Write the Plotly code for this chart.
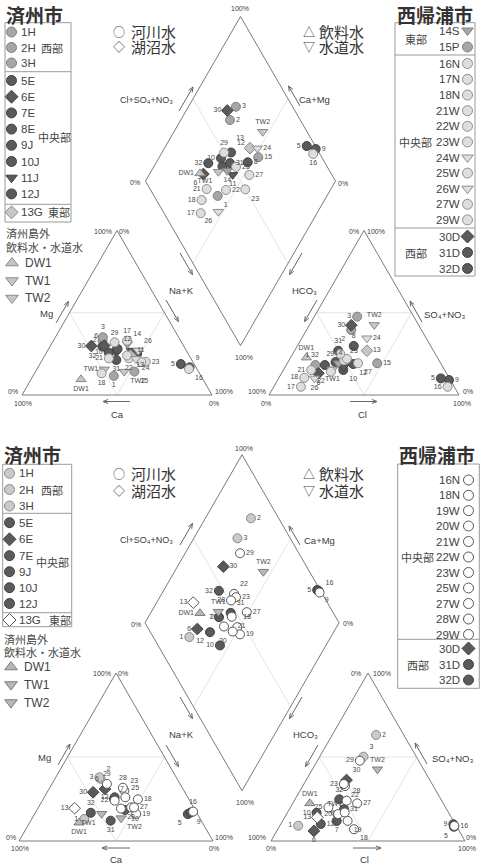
import numpy as np
import plotly.graph_objects as go

W, H = 482, 866
FONT = "Liberation Sans, Arial, DejaVu Sans, Noto Sans CJK JP, sans-serif"
CJK = "Noto Sans CJK JP, Liberation Sans, sans-serif"
LINE = "#7a7a7a"
TXT = "#3c3c3c"

# ---------------- Top chart (samples, meq %) ----------------
A_id = ["1", "2", "3", "5", "6", "7", "8", "9", "10", "11", "12", "13", "DW1", "TW1", "TW2",
        "14", "15", "16", "17", "18", "21", "22", "23", "24", "25", "26", "27", "29", "30", "31", "32"]
A_ca = [45.9, 41.1, 39.9, 7.0, 41.7, 37.0, 26.9, 3.4, 41.5, 29.0, 35.7, 31.0, 64.2, 48.9, 39.1,
        29.1, 33.7, 4.2, 28.2, 51.5, 43.1, 32.6, 24.8, 29.1, 32.7, 25.4, 27.2, 35.3, 48.6, 39.7, 43.0]
A_mg = [11.6, 33.0, 35.1, 18.8, 30.0, 27.0, 25.0, 16.8, 25.7, 27.0, 28.0, 24.0, 9.5, 15.6, 14.2,
        31.0, 14.2, 15.8, 33.0, 13.2, 22.3, 22.3, 20.2, 22.0, 24.0, 27.0, 20.0, 32.0, 29.8, 21.3, 29.4]
A_nak = [42.5, 25.9, 25.0, 74.2, 28.3, 36.0, 48.1, 79.8, 32.8, 44.0, 36.3, 45.0, 26.3, 35.5, 46.7,
         39.9, 52.1, 80.0, 38.8, 35.3, 34.6, 45.1, 55.0, 48.9, 43.3, 47.6, 52.8, 32.7, 21.6, 39.0, 27.6]
A_cl = [15.3, 23.5, 22.6, 85.4, 19.4, 25.0, 29.7, 90.2, 31.5, 30.8, 34.9, 38.1, 8.3, 25.6, 34.1,
        26.9, 47.3, 91.5, 14.3, 13.3, 14.6, 25.5, 29.0, 34.3, 30.0, 18.9, 37.2, 25.0, 22.1, 23.0, 20.3]
A_so4 = [18.2, 39.5, 47.6, 10.1, 13.2, 20.0, 29.8, 9.1, 15.2, 17.0, 18.8, 26.9, 22.7, 15.6, 42.6,
         19.3, 19.3, 5.0, 5.0, 10.5, 15.2, 14.2, 21.0, 34.5, 22.0, 10.1, 19.3, 25.0, 42.4, 26.9, 18.2]
A_hco3 = [66.5, 37.0, 29.8, 4.5, 67.4, 55.0, 40.5, 0.7, 53.3, 52.2, 46.3, 35.0, 69.0, 58.8, 23.3,
          53.8, 33.4, 3.5, 80.7, 76.2, 70.2, 60.3, 50.0, 31.2, 48.0, 71.0, 43.5, 50.0, 35.5, 50.1, 61.5]
A_style = ["mid_c", "mid_c", "mid_c", "dark_c", "dark_d", "dark_c", "dark_c", "dark_c", "dark_c", "dark_tdn",
           "dark_c", "lgray_d", "lgray_tup", "lgray_tdn", "lgray_tdn", "mid_tdn", "mid_c", "light_c", "light_c",
           "light_c", "light_c", "light_c", "light_c", "light_tdn", "light_c", "light_tdn", "light_c", "light_c",
           "dark_d", "dark_c", "dark_c"]

A_lab_cat = {"1": "bottom center", "2": "middle left", "3": "top center", "5": "middle left", "6": "top left",
             "7": "", "8": "", "9": "top right", "10": "middle left", "11": "middle right", "12": "top right",
             "13": "bottom right", "DW1": "bottom center", "TW1": "middle left", "TW2": "bottom right",
             "14": "top right", "15": "bottom right", "16": "bottom right", "17": "top center",
             "18": "bottom center", "21": "middle left", "22": "bottom center", "23": "middle right",
             "24": "bottom right", "25": "", "26": "top right", "27": "", "29": "top center",
             "30": "middle left", "31": "bottom center", "32": "bottom left"}
A_lab_an = {"1": "top left", "2": "bottom left", "3": "middle left", "5": "middle left", "6": "bottom center",
            "7": "", "8": "top center", "9": "middle right", "10": "bottom right", "11": "", "12": "bottom right",
            "13": "middle right", "DW1": "top center", "TW1": "bottom center", "TW2": "top center",
            "14": "top center", "15": "middle right", "16": "middle left", "17": "middle left",
            "18": "middle left", "21": "middle left", "22": "bottom left", "23": "top right",
            "24": "middle right", "25": "", "26": "bottom center", "27": "bottom right", "29": "middle left",
            "30": "middle left", "31": "top center", "32": "top left"}
A_lab_dia = {"1": "bottom right", "2": "middle right", "3": "middle right", "5": "middle left",
             "6": "bottom left", "7": "", "8": "middle right", "9": "middle right", "10": "middle left",
             "11": "bottom center", "12": "top right", "13": "top left", "DW1": "middle left",
             "TW1": "bottom left", "TW2": "top center", "14": "bottom center", "15": "middle right",
             "16": "bottom center", "17": "middle left", "18": "middle left", "21": "middle left",
             "22": "middle right", "23": "bottom right", "24": "middle right", "25": "middle right",
             "26": "bottom left", "27": "middle right", "29": "top center", "30": "middle left",
             "31": "middle right", "32": "middle left"}

# ---------------- Bottom chart (samples, meq %) ----------------
B_id = ["1", "2", "3", "5", "6", "7", "9", "10", "12", "13", "DW1", "TW1", "TW2",
        "16", "18", "19", "20", "21", "22", "23", "25", "27", "28", "29", "30", "31", "32"]
B_ca = [59.8, 39.5, 39.6, 5.0, 40.2, 38.5, 3.0, 36.1, 37.7, 61.6, 63.6, 49.3, 40.6,
        1.5, 26.3, 31.5, 32.2, 37.8, 38.7, 30.7, 32.2, 30.7, 30.6, 37.7, 47.3, 46.7, 54.6]
B_mg = [13.1, 37.0, 37.9, 16.0, 31.0, 25.0, 17.0, 18.5, 26.0, 19.5, 10.9, 16.2, 13.6,
        17.5, 24.8, 16.1, 20.0, 19.3, 24.0, 30.0, 26.0, 20.0, 31.7, 34.0, 29.0, 12.1, 16.8]
B_nak = [27.1, 23.5, 22.5, 79.0, 28.8, 36.5, 80.0, 45.4, 36.3, 18.9, 25.5, 34.5, 45.8,
         81.0, 48.9, 52.4, 47.8, 42.9, 37.3, 39.3, 41.8, 49.3, 37.7, 28.3, 23.7, 41.2, 28.6]
B_cl = [9.5, 22.6, 22.6, 90.0, 19.1, 27.9, 89.0, 15.1, 20.6, 16.8, 8.8, 24.6, 33.5,
        90.0, 39.3, 33.5, 26.6, 29.5, 21.8, 20.6, 19.6, 33.2, 27.0, 21.9, 20.8, 28.2, 22.8]
B_so4 = [9.1, 63.1, 50.2, 8.5, 6.0, 11.9, 10.0, 16.8, 10.1, 14.1, 22.4, 16.5, 42.7,
         9.0, 7.0, 12.0, 16.0, 17.0, 32.7, 33.9, 20.0, 22.4, 24.0, 47.8, 36.3, 18.9, 24.8]
B_hco3 = [81.4, 14.3, 27.2, 1.5, 74.9, 60.2, 1.0, 68.1, 69.3, 69.1, 68.8, 58.9, 23.8,
          1.0, 53.7, 54.5, 57.4, 53.5, 45.5, 45.5, 60.4, 44.4, 49.0, 30.3, 42.9, 52.9, 52.4]
B_style = ["lg_c", "lg_c", "lg_c", "dark_c", "dark_d", "dark_c", "dark_c", "dark_c", "dark_c", "white_d",
           "gray_tup", "gray_tdn", "gray_tdn", "white_c", "white_c", "white_c", "white_c", "white_c",
           "white_c", "white_c", "white_c", "white_c", "white_c", "white_c", "dark_d", "dark_c", "dark_c"]

B_lab_cat = {"1": "middle left", "2": "top right", "3": "middle left", "5": "bottom left", "6": "top left",
             "7": "top right", "9": "bottom right", "10": "bottom right", "12": "middle left",
             "13": "middle left", "DW1": "bottom center", "TW1": "bottom left", "TW2": "bottom right",
             "16": "top center", "18": "middle right", "19": "middle right", "20": "bottom center", "21": "",
             "22": "middle left", "23": "top right", "25": "top right", "27": "middle right",
             "28": "top center", "29": "top center", "30": "middle left", "31": "bottom center",
             "32": "top center"}
B_lab_an = {"1": "middle left", "2": "middle right", "3": "top right", "5": "bottom left",
            "6": "bottom center", "7": "bottom center", "9": "middle left", "10": "middle left",
            "12": "middle right", "13": "middle left", "DW1": "top center", "TW1": "top center",
            "TW2": "top center", "16": "middle right", "18": "bottom right", "19": "bottom right",
            "20": "middle left", "21": "", "22": "bottom right", "23": "middle left", "25": "middle left",
            "27": "middle right", "28": "top right", "29": "middle left", "30": "top right",
            "31": "middle right", "32": "top center"}
B_lab_dia = {"1": "middle left", "2": "middle right", "3": "middle right", "5": "middle left",
             "6": "middle left", "7": "middle left", "9": "bottom right", "10": "middle left",
             "12": "bottom left", "13": "middle left", "DW1": "middle left", "TW1": "top center",
             "TW2": "top center", "16": "top right", "18": "top right", "19": "middle right",
             "20": "bottom left", "21": "bottom right", "22": "top right", "23": "middle right",
             "25": "top left", "27": "middle right", "28": "middle left", "29": "middle right",
             "30": "middle right", "31": "top right", "32": "middle left"}

STYLES = {
    "dark_c": ("circle", "#5a5a5a", "#424242"),
    "dark_d": ("diamond", "#5a5a5a", "#424242"),
    "dark_tdn": ("triangle-down", "#5a5a5a", "#424242"),
    "mid_c": ("circle", "#a6a6a6", "#808080"),
    "mid_tdn": ("triangle-down", "#a6a6a6", "#808080"),
    "light_c": ("circle", "#dedede", "#8e8e8e"),
    "light_tdn": ("triangle-down", "#dedede", "#8e8e8e"),
    "lgray_d": ("diamond", "#c6c6c6", "#8a8a8a"),
    "lgray_tup": ("triangle-up", "#c6c6c6", "#8a8a8a"),
    "lgray_tdn": ("triangle-down", "#c6c6c6", "#8a8a8a"),
    "lg_c": ("circle", "#cacaca", "#8a8a8a"),
    "white_c": ("circle", "#ffffff", "#555555"),
    "white_d": ("diamond", "#ffffff", "#555555"),
    "gray_tup": ("triangle-up", "#b8b8b8", "#7c7c7c"),
    "gray_tdn": ("triangle-down", "#b8b8b8", "#7c7c7c"),
}

SQ3 = np.sqrt(3) / 2


def make_geo(x0, base, s, gap):
    h = s * SQ3
    return dict(x0=x0, base=base, s=s, h=h, xr=x0 + s + gap,
                bx=x0 + s + gap / 2, by=base - gap * SQ3)


GEO_A = make_geo(22, 395, 190, 57)
GEO_B = make_geo(19, 841, 194, 58)

fig = go.Figure()
annots = []


def txt(x, y, s, size=7, anchor="center", color=TXT, family=FONT):
    annots.append(dict(x=x, y=y, xref="x", yref="y", text=s, showarrow=False,
                       xanchor=anchor, yanchor="middle",
                       font=dict(size=size, color=color, family=family)))


def lines(segs, color=LINE, width=1):
    xs, ys = [], []
    for seg in segs:
        for p in seg:
            xs.append(p[0]); ys.append(p[1])
        xs.append(None); ys.append(None)
    fig.add_trace(go.Scatter(x=xs, y=ys, mode="lines", line=dict(color=color, width=width),
                             hoverinfo="skip"))


def arrow_segs(x0, y0, x1, y1, hl=5.5, ang=22):
    d = np.array([x1 - x0, y1 - y0], float)
    d /= np.linalg.norm(d)
    segs = [[(x0, y0), (x1, y1)]]
    for sgn in (1, -1):
        a = np.radians(180 + sgn * ang)
        r = np.array([d[0] * np.cos(a) - d[1] * np.sin(a), d[0] * np.sin(a) + d[1] * np.cos(a)])
        segs.append([(x1, y1), (x1 + hl * r[0], y1 + hl * r[1])])
    return segs


def frame(g):
    x0, b, s, h, xr, bx, by = g["x0"], g["base"], g["s"], g["h"], g["xr"], g["bx"], g["by"]
    inner = []
    for ox in (x0, xr):
        m1 = (ox + s / 2, b); m2 = (ox + 3 * s / 4, b - h / 2); m3 = (ox + s / 4, b - h / 2)
        inner.append([m1, m2, m3, m1])
    inner.append([(bx - s / 4, by - h / 2), (bx + s / 4, by - 3 * h / 2)])
    inner.append([(bx - s / 4, by - 3 * h / 2), (bx + s / 4, by - h / 2)])
    lines(inner, color="#e4e4e4", width=1)
    outl = []
    for ox in (x0, xr):
        outl.append([(ox, b), (ox + s, b), (ox + s / 2, b - h), (ox, b)])
    outl.append([(bx, by), (bx + s / 2, by - h), (bx, by - 2 * h), (bx - s / 2, by - h), (bx, by)])
    lines(outl, color=LINE, width=1)


def positions(g, mg, nak, cl, so4):
    mg = np.array(mg) / 100; nak = np.array(nak) / 100
    cl = np.array(cl) / 100; so4 = np.array(so4) / 100
    xc = g["x0"] + g["s"] * (nak + mg / 2); yc = g["base"] - g["h"] * mg
    xa = g["xr"] + g["s"] * (cl + so4 / 2); ya = g["base"] - g["h"] * so4
    a = cl + so4; c = 1 - nak
    xd = g["bx"] + g["s"] / 2 * (a - c); yd = g["by"] - g["h"] * (a + c)
    return (xc, yc), (xa, ya), (xd, yd)


def plot_points(g, ids, mg, nak, cl, so4, styles, labs):
    pans = positions(g, mg, nak, cl, so4)
    for st in dict.fromkeys(styles):
        sym, fc, lc = STYLES[st]
        xs, ys = [], []
        for (px, py) in pans:
            for i in range(len(ids)):
                if styles[i] == st:
                    xs.append(px[i]); ys.append(py[i])
        fig.add_trace(go.Scatter(x=xs, y=ys, mode="markers",
                                 marker=dict(symbol=sym, size=9, color=fc, line=dict(color=lc, width=1)),
                                 hoverinfo="skip"))
    tx, ty, tt, tp = [], [], [], []
    for (px, py), lab in zip(pans, labs):
        for i, sid in enumerate(ids):
            pos = lab.get(sid, "middle right")
            if not pos:
                continue
            tx.append(px[i]); ty.append(py[i]); tt.append(sid); tp.append(pos)
    # invisible markers of the same size keep the labels offset from the symbols
    fig.add_trace(go.Scatter(x=tx, y=ty, mode="markers+text", text=tt, textposition=tp,
                             marker=dict(size=8, opacity=0),
                             textfont=dict(size=7, color="#4a4a4a", family=FONT), hoverinfo="skip"))


def legend_marker(x, y, st, size=10):
    sym, fc, lc = STYLES[st]
    fig.add_trace(go.Scatter(x=[x], y=[y], mode="markers",
                             marker=dict(symbol=sym, size=size, color=fc, line=dict(color=lc, width=1)),
                             hoverinfo="skip"))


shapes = []


def rect(x0, y0, x1, y1):
    shapes.append(dict(type="rect", xref="x", yref="y", x0=x0, y0=y0, x1=x1, y1=y1,
                       line=dict(color="#9a9a9a", width=1)))


def hline(x0, x1, y):
    shapes.append(dict(type="line", xref="x", yref="y", x0=x0, x1=x1, y0=y, y1=y,
                       line=dict(color="#9a9a9a", width=1)))


def chart_text(lab):
    (c1, c2, nk, hc, so, mgp, cap, clp) = lab
    txt(c1[0], c1[1], "Cl+SO₄+NO₃", 9)
    txt(c2[0], c2[1], "Ca+Mg", 9.5)
    txt(nk[0], nk[1], "Na+K", 9.5)
    txt(hc[0], hc[1], "HCO₃", 9.5)
    txt(so[0], so[1], "SO₄+NO₃", 9.5)
    txt(mgp[0], mgp[1], "Mg", 9.5)
    txt(cap[0], cap[1], "Ca", 9.5)
    txt(clp[0], clp[1], "Cl", 9.5)


def water_types(y1, y2):
    for sym, x, y in [("○", 119, y1), ("◇", 119, y2), ("△", 309, y1), ("▽", 309, y2)]:
        txt(x, y, sym, 12, "center", "#444", CJK)
    txt(129, y1, "河川水", 15, "left", "#333", CJK)
    txt(129, y2, "湖沼水", 15, "left", "#333", CJK)
    txt(317, y1, "飲料水", 15, "left", "#333", CJK)
    txt(317, y2, "水道水", 15, "left", "#333", CJK)


# ================= TOP CHART =================
frame(GEO_A)
plot_points(GEO_A, A_id, A_mg, A_nak, A_cl, A_so4, A_style, [A_lab_cat, A_lab_an, A_lab_dia])
chart_text([(146, 100), (314, 99), (181, 290), (304, 290), (444, 314), (46, 313), (117, 414), (362, 414)])
arr = []
arr += arrow_segs(179, 111, 193, 87)
arr += arrow_segs(300, 106, 288.5, 86)
arr += arrow_segs(180, 253, 192.5, 274.6)
arr += arrow_segs(166, 300, 178.5, 321.6)
arr += arrow_segs(302, 253, 289.5, 274.6)
arr += arrow_segs(317, 300, 304.5, 321.6)
arr += arrow_segs(422, 322, 410, 301)
arr += arrow_segs(56, 323, 68.5, 301.4)
arr += arrow_segs(130, 401.5, 103, 401.5)
arr += arrow_segs(350, 401.5, 377, 401.5)
for (t, x, y) in [("100%", 240, 8), ("0%", 135, 182), ("0%", 343, 183), ("100%", 244, 357),
                  ("100%", 103, 231), ("0%", 124, 231), ("0%", 13, 391), ("100%", 23, 403.5),
                  ("100%", 224, 391), ("0%", 214, 403.5),
                  ("0%", 354, 231), ("100%", 376, 231), ("100%", 257, 391), ("0%", 266, 403.5),
                  ("0%", 468, 391), ("100%", 462, 403.5)]:
    txt(x, y, t, 7)

txt(4, 14, "<b>済州市</b>", 19, "left", "#333", CJK)
rect(5, 22.7, 71, 222)
hline(5, 71, 71.7); hline(5, 71, 204.3)
jeju_top = [("1H", "mid_c", 32), ("2H", "mid_c", 47.5), ("3H", "mid_c", 63),
            ("5E", "dark_c", 80.5), ("6E", "dark_d", 96.7), ("7E", "dark_c", 112.9), ("8E", "dark_c", 129.1),
            ("9J", "dark_c", 145.3), ("10J", "dark_c", 161.5), ("11J", "dark_tdn", 177.7),
            ("12J", "dark_c", 193.9), ("13G", "lgray_d", 212.3)]
for lab, st, y in jeju_top:
    legend_marker(11.5, y, st)
    txt(19, y, lab, 11.5, "left", "#444")
txt(52, 47.5, "西部", 11, "center", "#444", CJK)
txt(54, 137, "中央部", 11, "center", "#444", CJK)
txt(59, 212.3, "東部", 11, "center", "#444", CJK)
txt(4, 233, "済州島外", 11, "left", "#444", CJK)
txt(4, 247, "飲料水・水道水", 11, "left", "#444", CJK)
for lab, st, y in [("DW1", "lgray_tup", 263), ("TW1", "lgray_tdn", 280.5), ("TW2", "lgray_tdn", 298)]:
    legend_marker(12, y, st, 11)
    txt(23, y, lab, 12, "left", "#444")
water_types(31.5, 46.5)

txt(395, 14, "<b>西帰浦市</b>", 19, "left", "#333", CJK)
rect(395, 22.7, 475, 276)
hline(395, 475, 55); hline(395, 475, 228)
seo_top = [("14S", "mid_tdn", 30.5), ("15P", "mid_c", 47), ("16N", "light_c", 63.5), ("17N", "light_c", 79.3),
           ("18N", "light_c", 95), ("21W", "light_c", 110.7), ("22W", "light_c", 126.3),
           ("23W", "light_c", 141.9), ("24W", "light_tdn", 157.5), ("25W", "light_c", 173.1),
           ("26W", "light_tdn", 188.7), ("27W", "light_c", 204.3), ("29W", "light_c", 219.9),
           ("30D", "dark_d", 236.5), ("31D", "dark_c", 252.5), ("32D", "dark_c", 268.5)]
for lab, st, y in seo_top:
    legend_marker(467.5, y, st)
    txt(461.5, y, lab, 11.5, "right", "#444")
txt(416, 39, "東部", 11, "center", "#444", CJK)
txt(415, 141.5, "中央部", 11, "center", "#444", CJK)
txt(416, 252.5, "西部", 11, "center", "#444", CJK)

# ================= BOTTOM CHART =================
frame(GEO_B)
plot_points(GEO_B, B_id, B_mg, B_nak, B_cl, B_so4, B_style, [B_lab_cat, B_lab_an, B_lab_dia])
chart_text([(146, 540), (319, 540), (181, 734), (305, 734), (452, 758), (44, 757), (116, 859), (364, 859)])
arr += arrow_segs(180, 545, 192.5, 523.4)
arr += arrow_segs(300, 545, 289, 526)
arr += arrow_segs(180, 697, 192.5, 718.6)
arr += arrow_segs(166, 745, 178.5, 766.6)
arr += arrow_segs(302, 697, 289.5, 718.6)
arr += arrow_segs(318, 745, 305.5, 766.6)
arr += arrow_segs(427, 764, 415, 743)
arr += arrow_segs(58, 765, 70, 744)
arr += arrow_segs(130, 848, 102, 848)
arr += arrow_segs(353, 848, 381, 848)
lines(arr, color="#666", width=1)
for (t, x, y) in [("100%", 244, 448.5), ("0%", 136, 624), ("0%", 348, 623.5), ("100%", 245, 802),
                  ("100%", 102, 673.5), ("0%", 123, 673.5), ("0%", 11, 837), ("100%", 20, 848.5),
                  ("100%", 224, 837), ("0%", 214, 848.5),
                  ("0%", 356, 673.5), ("100%", 382, 673.5), ("100%", 257, 837), ("0%", 271, 848.5),
                  ("0%", 471, 837), ("100%", 467, 848.5)]:
    txt(x, y, t, 7)

txt(2, 454, "<b>済州市</b>", 19, "left", "#333", CJK)
rect(2.7, 464.3, 71.7, 626.7)
hline(2.7, 71.7, 513.3); hline(2.7, 71.7, 612.7)
jeju_bot = [("1H", "lg_c", 473.3), ("2H", "lg_c", 489.5), ("3H", "lg_c", 506),
            ("5E", "dark_c", 522.7), ("6E", "dark_d", 539.3), ("7E", "dark_c", 555.7), ("9J", "dark_c", 571.7),
            ("10J", "dark_c", 587.7), ("12J", "dark_c", 603.5), ("13G", "white_d", 620)]
for lab, st, y in jeju_bot:
    legend_marker(9.5, y, st)
    txt(17, y, lab, 11.5, "left", "#444")
txt(52, 489.5, "西部", 11, "center", "#444", CJK)
txt(52, 562, "中央部", 11, "center", "#444", CJK)
txt(60, 620, "東部", 11, "center", "#444", CJK)
txt(2, 638.5, "済州島外", 11, "left", "#444", CJK)
txt(2, 651.5, "飲料水・水道水", 11, "left", "#444", CJK)
for lab, st, y in [("DW1", "gray_tup", 667), ("TW1", "gray_tdn", 684.5), ("TW2", "gray_tdn", 702.5)]:
    legend_marker(11, y, st, 11)
    txt(22, y, lab, 12, "left", "#444")
water_types(473.3, 490)

txt(397, 454, "<b>西帰浦市</b>", 19, "left", "#333", CJK)
rect(397.7, 464, 479.3, 688.3)
hline(397.7, 479.3, 639.3)
seo_bot = [("16N", "white_c", 480), ("18N", "white_c", 495.3), ("19W", "white_c", 510.6),
           ("20W", "white_c", 526), ("21W", "white_c", 541.5), ("22W", "white_c", 557),
           ("23W", "white_c", 572.5), ("25W", "white_c", 588), ("27W", "white_c", 603.5),
           ("28W", "white_c", 619), ("29W", "white_c", 634.5),
           ("30D", "dark_d", 648.5), ("31D", "dark_c", 664.5), ("32D", "dark_c", 680)]
for lab, st, y in seo_bot:
    legend_marker(468.5, y, st)
    txt(462, y, lab, 11.5, "right", "#444")
txt(417, 557, "中央部", 11, "center", "#444", CJK)
txt(418, 664.5, "西部", 11, "center", "#444", CJK)

fig.update_layout(
    width=W, height=H, margin=dict(l=0, r=0, t=0, b=0), autosize=False,
    showlegend=False, plot_bgcolor="white", paper_bgcolor="white",
    xaxis=dict(range=[0, W], visible=False, fixedrange=True),
    yaxis=dict(range=[H, 0], visible=False, fixedrange=True),
    annotations=annots, shapes=shapes,
)
fig.write_html("out.html")
